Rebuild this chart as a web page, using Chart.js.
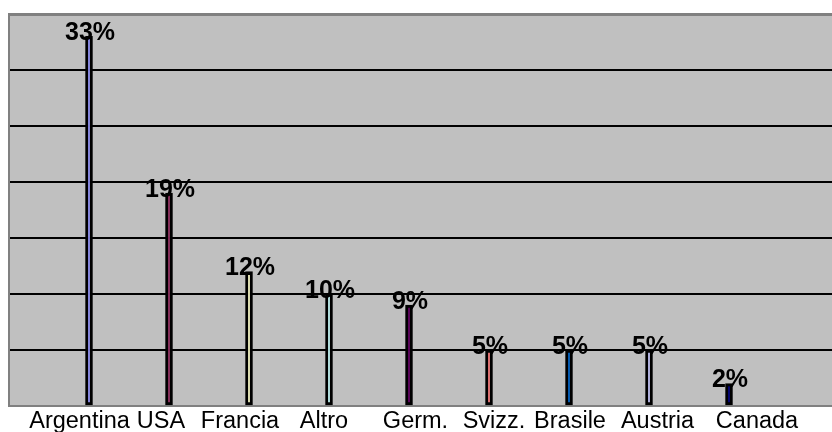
<!DOCTYPE html>
<html>
<head>
<meta charset="utf-8">
<script src="https://cdn.jsdelivr.net/npm/chart.js@4/dist/chart.umd.min.js"></script>
<style>
  html, body { margin: 0; padding: 0; background: #ffffff; }
  #wrap { width: 832px; height: 432px; }
</style>
</head>
<body>
<div id="wrap"><canvas id="chart" width="832" height="432"></canvas></div>
<script>
// Share of total, by country
const categories = ['Argentina', 'USA', 'Francia', 'Altro', 'Germ.', 'Svizz.', 'Brasile', 'Austria', 'Canada'];
const shares = [33, 19, 12, 10, 9, 5, 5, 5, 2];
const valueLabels = ['33%', '19%', '12%', '10%', '9%', '5%', '5%', '5%', '2%'];
const yTicks = [0, 5, 10, 15, 20, 25, 30, 35];

// Styling
const barFills = ['#9999FF', '#993366', '#FFFFCC', '#CCFFFF', '#660066', '#FF8080', '#0066CC', '#CCCCFF', '#000080'];
const captionShift = [-9.5, -8, -9, -5, 6.5, 5, 1, 8.5, 28];
const PLOT_BG = '#c0c0c0';
const FRAME = '#808080';

const points = categories.map((c, i) => ({ x: i + 1, y: shares[i] }));

const plotBackground = {
  id: 'plotBackground',
  beforeDraw(chart) {
    const { ctx, chartArea: a } = chart;
    ctx.save();
    ctx.fillStyle = PLOT_BG;
    ctx.fillRect(a.left, a.top, a.right - a.left, a.bottom - a.top);
    ctx.restore();
  }
};

const barValueLabels = {
  id: 'barValueLabels',
  afterDatasetsDraw(chart) {
    const { ctx } = chart;
    const meta = chart.getDatasetMeta(0);
    ctx.save();
    ctx.font = 'bold 25px "Liberation Sans", Arial, sans-serif';
    ctx.fillStyle = '#000000';
    ctx.textAlign = 'center';
    ctx.textBaseline = 'middle';
    meta.data.forEach((el, i) => {
      ctx.fillText(valueLabels[i], el.x + 1, el.y - 3);
    });
    ctx.restore();
  }
};

const categoryCaptions = {
  id: 'categoryCaptions',
  afterDraw(chart) {
    const { ctx, chartArea: a } = chart;
    const xs = chart.scales.x;
    ctx.save();
    ctx.font = '23.5px "Liberation Sans", Arial, sans-serif';
    ctx.fillStyle = '#000000';
    ctx.textAlign = 'center';
    ctx.textBaseline = 'alphabetic';
    categories.forEach((name, i) => {
      ctx.fillText(name, xs.getPixelForValue(i + 1) + captionShift[i], a.bottom + 22);
    });
    ctx.restore();
  }
};

new Chart(document.getElementById('chart'), {
  type: 'bar',
  data: {
    datasets: [{
      data: points,
      backgroundColor: barFills,
      borderColor: '#000000',
      borderWidth: 3,
      borderSkipped: false,
      barThickness: 7
    }]
  },
  options: {
    responsive: false,
    animation: false,
    layout: { padding: { left: 9, top: 14, right: 0, bottom: 26 } },
    plugins: { legend: { display: false }, tooltip: { enabled: false } },
    scales: {
      x: {
        type: 'linear',
        offset: false,
        min: 0,
        max: (832 - 9) / 80,
        ticks: { display: false },
        grid: { display: false, drawTicks: false, offset: false },
        border: { display: true, color: FRAME, width: 2 }
      },
      y: {
        min: 0,
        max: 35,
        afterBuildTicks(scale) { scale.ticks = yTicks.map(v => ({ value: v })); },
        ticks: { display: false },
        grid: {
          drawTicks: false,
          color: c => (c.tick && c.tick.value === 35) ? FRAME : (c.tick && c.tick.value === 0 ? 'rgba(0,0,0,0)' : '#000000'),
          lineWidth: c => (c.tick && c.tick.value === 35) ? 3 : 2
        },
        border: { display: true, color: FRAME, width: 2 }
      }
    }
  },
  plugins: [plotBackground, barValueLabels, categoryCaptions]
});
</script>
</body>
</html>
